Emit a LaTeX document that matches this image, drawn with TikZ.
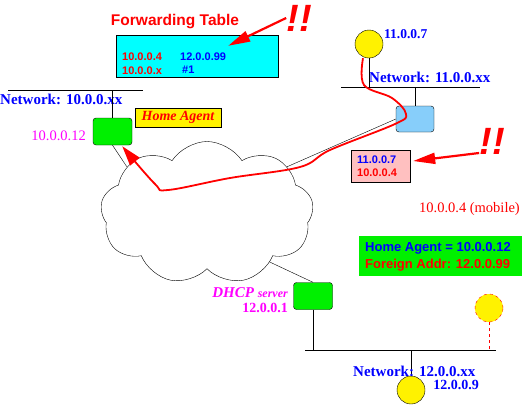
\documentclass[tikz,border=0pt]{standalone}
\usepackage{fontspec}
\setmainfont{Liberation Serif}
\setsansfont{Liberation Sans}
\usetikzlibrary{positioning,arrows.meta,shapes.symbols}
\definecolor{cyanbox}{RGB}{0,255,255}
\definecolor{pinkbox}{RGB}{255,192,192}
\definecolor{greenbox}{RGB}{0,240,0}
\definecolor{skyrouter}{RGB}{135,206,250}
\definecolor{hostmag}{RGB}{255,0,255}
\newcommand{\fs}[1]{\fontsize{#1}{#1}\selectfont}

\begin{document}
\begin{tikzpicture}[
  x=1pt, y=-1pt,
  router/.style={draw, fill=greenbox, rounded corners=3pt, minimum width=39pt, minimum height=27pt, inner sep=0pt},
  host/.style={circle, draw, fill=yellow, minimum size=28pt, inner sep=0pt},
  infobox/.style={draw, inner sep=0pt},
  netlabel/.style={font=\bfseries\fs{15}, text=blue, inner sep=0pt},
  addr/.style={font=\bfseries\sffamily\fs{11}, inner sep=0pt},
  bigaddr/.style={font=\bfseries\sffamily\fs{13}, inner sep=0pt},
  bang/.style={font=\bfseries\itshape\sffamily\fs{38}, text=red, inner sep=0pt},
  alert/.style={draw=red, line width=2.2pt, -{Triangle[length=22pt, width=11pt]}},
  tunnel/.style={draw=red, line width=1.8pt, -{Triangle[length=20pt, width=12pt]}}
]
\useasboundingbox (0,0) rectangle (525,405);

% forwarding table
\node[font=\bfseries\sffamily\fs{15.5}, text=red, inner sep=0pt] (fwdtitle) at (175,22) {Forwarding Table};
\node[infobox, fill=cyanbox, minimum width=162pt, minimum height=42pt] (fwd) at (197,56) {};
\node[addr, text=red, anchor=west] (fwdA) at (122,57) {10.0.0.4};
\node[addr, text=blue, anchor=west] (fwdB) at (180,57) {12.0.0.99};
\node[addr, text=red, anchor=west] (fwdC) at (122,71) {10.0.0.x};
\node[addr, text=blue, anchor=west] (fwdD) at (182,70) {\#1};

% home network
\coordinate (netA-w) at (8,90);
\coordinate (netA-e) at (143,90);
\draw[thick] (netA-w) -- (netA-e);
\node[netlabel, anchor=west] (netAlbl) at (0,99) {Network: 10.0.0.xx};
\node[router] (ha) at (112.5,131.5) {};
\draw[thick] (ha.north) -- (ha.north |- netA-w);
\node[infobox, fill=yellow, minimum width=86pt, minimum height=19pt, font=\bfseries\itshape\fs{14}, text=red] (halbl) at (178,117.5) {Home Agent};
\node[font=\fs{14.5}, text=hostmag, inner sep=0pt, anchor=east] (haaddr) at (86,136) {10.0.0.12};

% internet
\node[cloud, draw, fill=white, cloud puffs=9, cloud puff arc=115, aspect=1.5, minimum width=213pt, minimum height=143pt] (net) at (207,213) {};
\draw (ha.south) -- (net.150);

% foreign network 11
\node[host] (h11) at (369,44) {};
\node[netlabel, anchor=west, font=\bfseries\fs{13.5}] (h11lbl) at (384,34) {11.0.0.7};
\coordinate (netB-w) at (341,87);
\coordinate (netB-e) at (480,87);
\draw[thick] (netB-w) -- (netB-e);
\node[netlabel, anchor=west] (netBlbl) at (369,77) {Network: 11.0.0.xx};
\draw[thick] (h11.south) -- (h11.south |- netB-w);
\node[router, fill=skyrouter, minimum width=38pt, minimum height=26pt] (fr) at (415,119) {};
\draw[thick] (fr.north) -- (fr.north |- netB-w);
\draw (fr.west) -- (net.30);

% encapsulated packet
\node[infobox, fill=pinkbox, minimum width=59pt, minimum height=32pt] (pkt) at (380.5,166) {};
\node[addr, text=blue, anchor=west] (pktA) at (357,160) {11.0.0.7};
\node[addr, text=red, anchor=west] (pktB) at (357,173) {10.0.0.4};

% foreign network 12
\node[router] (dhcp) at (313,296) {};
\draw (dhcp.north) -- (net.-38);
\node[font=\bfseries\itshape\fs{15}, text=hostmag, inner sep=0pt, anchor=east] (dhcplbl) at (288,293) {DHCP {\fs{12}server}};
\node[font=\bfseries\fs{14}, text=hostmag, inner sep=0pt, anchor=east] (dhcpaddr) at (288,308) {12.0.0.1};
\coordinate (netC-w) at (305,350);
\coordinate (netC-e) at (496,350);
\draw[thick] (netC-w) -- (netC-e);
\draw[thick] (dhcp.south) -- (dhcp.south |- netC-w);
\node[host] (h9) at (411,390) {};
\draw[thick] (h9.north) -- (h9.north |- netC-w);
\node[netlabel, anchor=west] (netClbl) at (353,371) {Network: 12.0.0.xx};
\node[netlabel, anchor=east, font=\bfseries\fs{14}] (h9lbl) at (479,385) {12.0.0.9};

% mobile host
\node[host, draw=red, dashed] (mob) at (489,308) {};
\draw[red, dashed, thick] (mob.south) -- (mob.south |- netC-w);
\node[font=\fs{14.5}, text=red, inner sep=0pt, anchor=east] (moblbl) at (520,209) {10.0.0.4 (mobile)};
\node[infobox, draw=none, fill=greenbox, minimum width=163pt, minimum height=40pt] (reg) at (440.5,256) {};
\node[bigaddr, text=blue, anchor=west] (regA) at (365,248) {Home Agent = 10.0.0.12};
\node[bigaddr, text=red, anchor=west] (regB) at (365,265) {Foreign Addr: 12.0.0.99};

% tunnel back to the home agent
\draw[tunnel] plot[smooth, tension=0.6] coordinates {([xshift=-6pt]h11.south) (364,85) (392,98) (406,114) (395,124) (330,150) (300,167) (230,178) (168,190) (155,184) ([xshift=-10pt,yshift=-1pt]ha.south east)};

% exclamations
\node[bang] (bang1) at (299,18) {!!};
\draw[alert] (bang1.west) -- ([xshift=-50pt,yshift=-11pt]fwd.north east);
\node[bang] (bang2) at (492,141) {!!};
\draw[alert] ([yshift=-12pt]bang2.west) -- ([xshift=3pt,yshift=5pt]pkt.east);
\end{tikzpicture}
\end{document}
